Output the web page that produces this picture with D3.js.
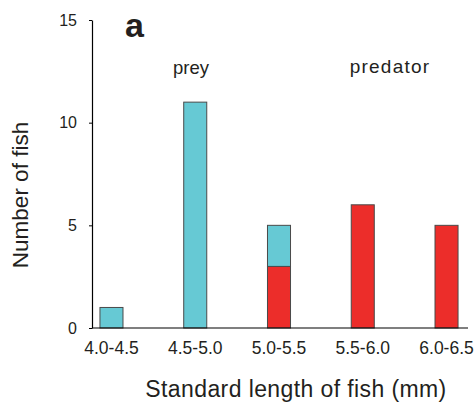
<!DOCTYPE html>
<html>
<head>
<meta charset="utf-8">
<title>Fish length</title>
<script src="https://d3js.org/d3.v7.min.js"></script>
<style>
  body { margin: 0; background: #fff; }
  text { font-family: "Liberation Sans", Arial, sans-serif; fill: #231f20; }
</style>
</head>
<body>
<div id="chart"></div>
<script>
  // data
  let categories = ["4.0-4.5", "4.5-5.0", "5.0-5.5", "5.5-6.0", "6.0-6.5"];
  let prey = [1, 11, 2, 0, 0];
  let predator = [0, 0, 3, 6, 5];
  let yTicks = [0, 5, 10, 15];

  let svgw = 476, svgh = 402;
  let m = { top: 20, left: 92, right: 10, bottom: 74 };

  let rows = categories.map((c, i) => ({ cat: c, predator: predator[i], prey: prey[i] }));
  let series = d3.stack().keys(["predator", "prey"])(rows);
  let colors = { predator: "#ec2d2a", prey: "#66c9d4" };

  let svg = d3.select("#chart").append("svg")
    .attr("width", svgw)
    .attr("height", svgh);

  let x = d3.scaleBand()
    .domain(categories)
    .range([m.left, 466])
    .paddingInner(0.725)
    .paddingOuter(0.095);

  let y = d3.scaleLinear()
    .domain([0, 15])
    .range([svgh - m.bottom, m.top]);

  // bars
  svg.append("g")
    .selectAll("g")
    .data(series)
    .join("g")
    .attr("fill", d => colors[d.key])
    .selectAll("rect")
    .data(d => d.filter(v => v[1] > v[0]))
    .join("rect")
    .attr("x", d => x(d.data.cat))
    .attr("y", d => y(d[1]))
    .attr("width", x.bandwidth())
    .attr("height", d => y(d[0]) - y(d[1]))
    .attr("stroke", "#4a4a4a")
    .attr("stroke-width", 1);

  // y axis
  let yAxis = svg.append("g")
    .attr("transform", `translate(${m.left},0)`)
    .call(d3.axisLeft(y).tickValues(yTicks).tickSize(3).tickSizeOuter(0).tickPadding(12));
  yAxis.selectAll("text").attr("font-size", 16).attr("fill", "#231f20");
  yAxis.select(".domain").attr("stroke", "#000").attr("stroke-width", 1.2);

  // x axis: baseline only, labels under bars
  let xAxis = svg.append("g")
    .attr("transform", `translate(0,${y(0)})`)
    .call(d3.axisBottom(x).tickSize(0).tickPadding(26));
  xAxis.select(".domain").remove();
  xAxis.selectAll("text").attr("font-size", 17.5).attr("fill", "#231f20").attr("dy", "0");
  svg.append("line")
    .attr("x1", m.left).attr("x2", 468)
    .attr("y1", y(0)).attr("y2", y(0))
    .attr("stroke", "#000").attr("stroke-width", 1.2);

  // labels
  svg.append("text")
    .attr("x", 296).attr("y", 397)
    .attr("text-anchor", "middle")
    .attr("font-size", 23)
    .attr("letter-spacing", 0.4)
    .text("Standard length of fish (mm)");

  svg.append("text")
    .attr("transform", "translate(28,195) rotate(-90)")
    .attr("text-anchor", "middle")
    .attr("font-size", 22.5)
    .text("Number of fish");

  svg.append("text")
    .attr("x", 125).attr("y", 37)
    .attr("font-size", 34).attr("font-weight", "bold")
    .text("a");

  svg.append("text")
    .attr("x", 191).attr("y", 74)
    .attr("text-anchor", "middle")
    .attr("font-size", 18.5)
    .text("prey");

  svg.append("text")
    .attr("x", 390).attr("y", 73)
    .attr("text-anchor", "middle")
    .attr("font-size", 19)
    .attr("letter-spacing", 1.2)
    .text("predator");
</script>
</body>
</html>
